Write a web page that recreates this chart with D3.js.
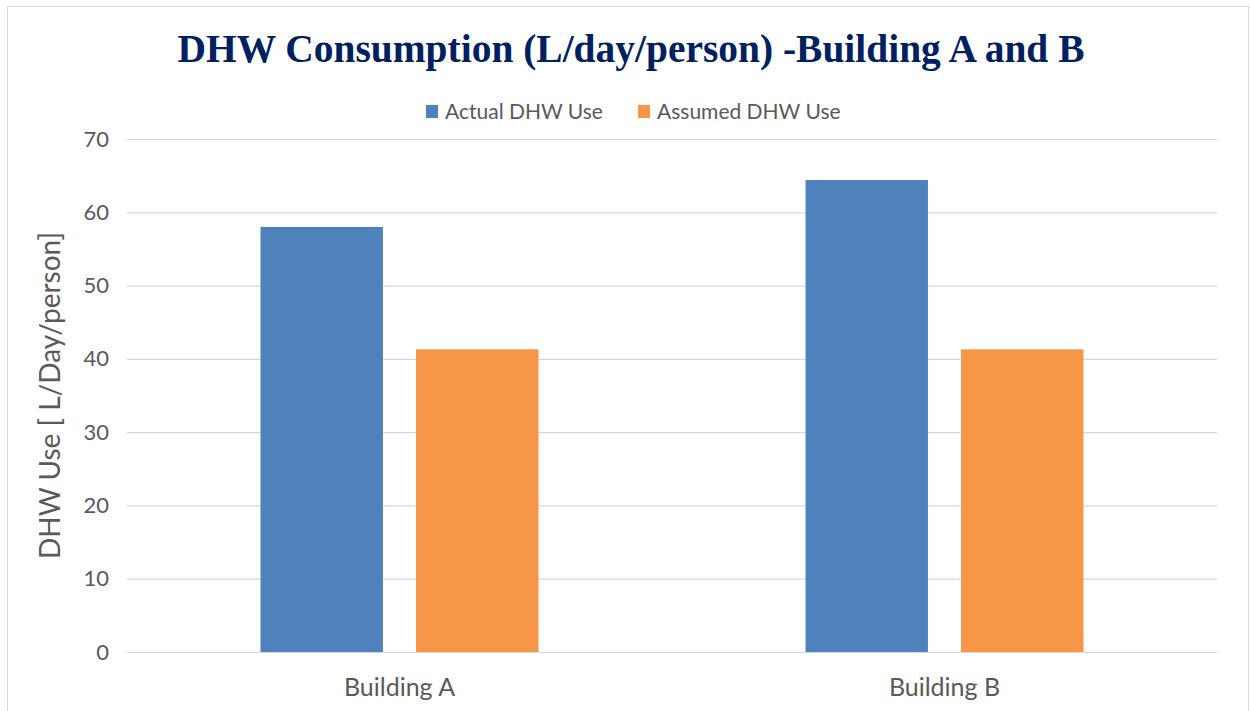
<!DOCTYPE html>
<html>
<head>
<meta charset="utf-8">
<script src="https://cdn.jsdelivr.net/npm/d3@7"></script>
<style>
  body { margin: 0; background: #fff; }
  svg { display: block; }
</style>
</head>
<body>
<div id="chart"></div>
<script>
const categories = ["Building A", "Building B"];
const seriesNames = ["Actual DHW Use", "Assumed DHW Use"];
const actualUse = [58, 64.4];
const assumedUse = [41.3, 41.3];
const yTicks = [0, 10, 20, 30, 40, 50, 60, 70];

const width = 1250, height = 711;
const marginLeft = 127, marginRight = 33, marginTop = 139, marginBottom = 59;
const colors = ["#4f81bd", "#f79646"];
const font = "Lato, 'Open Sans', sans-serif";

const svg = d3.select("#chart").append("svg")
  .attr("width", width)
  .attr("height", height);

// outer chart border
svg.append("rect")
  .attr("x", 7.5).attr("y", 6.5)
  .attr("width", width - 9).attr("height", height - 4)
  .attr("fill", "#fff")
  .attr("stroke", "#d9d9d9");

const x0 = d3.scaleBand(categories, [marginLeft, width - marginRight])
  .paddingInner(0.49).paddingOuter(0.245);
const x1 = d3.scaleBand(seriesNames, [0, x0.bandwidth()])
  .paddingInner(0.213);
const y = d3.scaleLinear([0, 70], [height - marginBottom, marginTop]);

// grid + y axis
const yAxis = d3.axisLeft(y).tickValues(yTicks).tickSize(0).tickPadding(18);
svg.append("g")
  .attr("transform", `translate(${marginLeft},0)`)
  .call(yAxis)
  .call(g => g.select(".domain").remove())
  .call(g => g.selectAll(".tick line").clone()
      .attr("x2", width - marginLeft - marginRight)
      .attr("stroke", "#d9d9d9")
      .attr("stroke-width", 1.2))
  .call(g => g.selectAll(".tick text")
      .attr("fill", "#595959")
      .attr("font-family", font)
      .attr("font-size", 22));

const rows = categories.map((c, i) => ({
  name: c,
  values: [actualUse[i], assumedUse[i]]
}));

svg.append("g")
  .selectAll("g")
  .data(rows)
  .join("g")
    .attr("transform", d => `translate(${x0(d.name)},0)`)
  .selectAll("rect")
  .data(d => d.values.map((v, j) => ({ key: seriesNames[j], value: v, j: j })))
  .join("rect")
    .attr("x", d => x1(d.key))
    .attr("y", d => y(d.value))
    .attr("width", x1.bandwidth())
    .attr("height", d => y(0) - y(d.value))
    .attr("fill", d => colors[d.j]);

// x axis labels
const xAxis = d3.axisBottom(x0).tickSize(0).tickPadding(26);
svg.append("g")
  .attr("transform", `translate(0,${height - marginBottom})`)
  .call(xAxis)
  .call(g => g.select(".domain").remove())
  .call(g => g.selectAll(".tick text")
      .attr("fill", "#595959")
      .attr("font-family", font)
      .attr("font-size", 25));

// y title
svg.append("text")
  .attr("transform", `translate(60,${(marginTop + height - marginBottom) / 2}) rotate(-90)`)
  .attr("text-anchor", "middle")
  .attr("fill", "#595959")
  .attr("font-family", font)
  .attr("font-size", 28)
  .text("DHW Use [ L/Day/person]");

// title
svg.append("text")
  .attr("x", 631)
  .attr("y", 62)
  .attr("text-anchor", "middle")
  .attr("fill", "#002060")
  .attr("font-family", "'Liberation Serif', serif")
  .attr("font-weight", "bold")
  .attr("font-size", 41)
  .attr("textLength", 907)
  .attr("lengthAdjust", "spacingAndGlyphs")
  .text("DHW Consumption (L/day/person) -Building A and B");

// legend
const legendX = [426, 638];
const legend = svg.append("g")
  .selectAll("g")
  .data(seriesNames)
  .join("g")
    .attr("transform", (d, i) => `translate(${legendX[i]},105)`);
legend.append("rect")
  .attr("width", 12).attr("height", 13)
  .attr("fill", (d, i) => colors[i]);
legend.append("text")
  .attr("x", 19)
  .attr("y", 14)
  .attr("fill", "#595959")
  .attr("font-family", font)
  .attr("font-size", 21)
  .text(d => d);
</script>
</body>
</html>
